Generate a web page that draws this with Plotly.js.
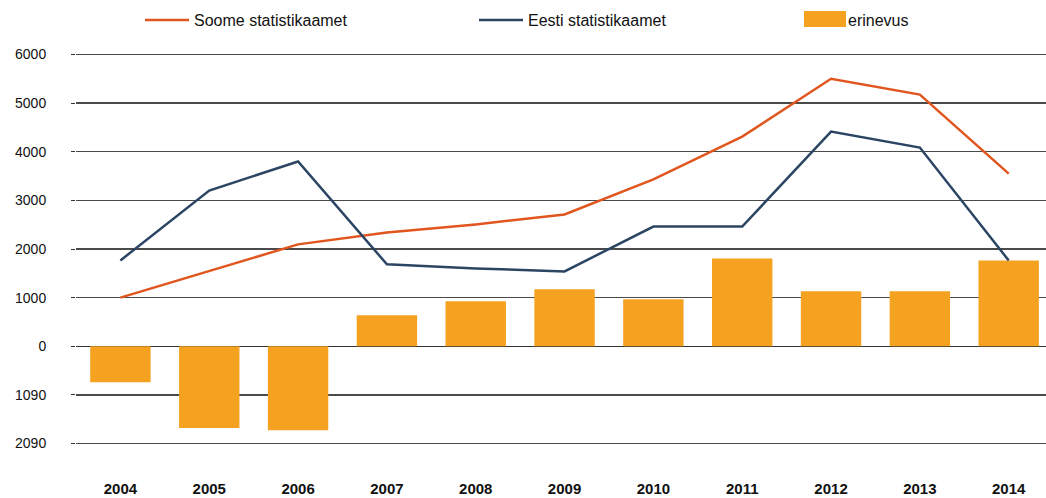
<!DOCTYPE html>
<html>
<head>
<meta charset="utf-8">
<script src="https://cdn.plot.ly/plotly-3.0.1.min.js"></script>
<style>html,body{margin:0;padding:0;background:#fff;}#chart{width:1046px;height:498px;}</style>
</head>
<body>
<div id="chart"></div>
<script>
var years = ["2004","2005","2006","2007","2008","2009","2010","2011","2012","2013","2014"];
var soome = [1000, 1540, 2095, 2340, 2505, 2710, 3430, 4310, 5500, 5175, 3550];
var eesti = [1765, 3200, 3800, 1685, 1600, 1540, 2460, 2460, 4415, 4085, 1765];
var erinevus = [-740, -1680, -1725, 640, 925, 1170, 965, 1805, 1130, 1130, 1765];
var yTickVals = [-2000, -1000, 0, 1000, 2000, 3000, 4000, 5000, 6000];
var yTickText = ["2090", "1090", "0", "1000", "2000", "3000", "4000", "5000", "6000"];

var font = "Liberation Sans, Arial, sans-serif";
var barColor = "#F5A221";
var traces = [
  {type: "bar", x: years, y: erinevus, name: "erinevus", marker: {color: barColor}, width: 0.68, legend: "legend3"},
  {type: "scatter", mode: "lines", x: years, y: soome, name: "Soome statistikaamet", line: {color: "#E1561F", width: 2.5}, legend: "legend"},
  {type: "scatter", mode: "lines", x: years, y: eesti, name: "Eesti statistikaamet", line: {color: "#2B4563", width: 2.5}, legend: "legend2"}
];
var legBase = {orientation: "h", xref: "container", yref: "container", xanchor: "left", yanchor: "middle", y: 1 - 20/498, font: {family: font, size: 16, color: "#111"}, bgcolor: "rgba(0,0,0,0)", itemwidth: 44};
var T = 52, B = 52, L = 76;
var plotH = 498 - T - B, plotW = 1046 - L;
function px2x(px) { return (px - L) / plotW; }
function py2y(py) { return (498 - B - py) / plotH; }
var layout = {
  width: 1046, height: 498,
  margin: {l: L, r: 0, t: T, b: B},
  paper_bgcolor: "#fff", plot_bgcolor: "#fff",
  showlegend: true,
  legend: Object.assign({}, legBase, {x: 140/1046}),
  legend2: Object.assign({}, legBase, {x: 474/1046}),
  legend3: Object.assign({}, legBase, {x: 794/1046}),
  shapes: [{type: "rect", xref: "paper", yref: "paper", x0: px2x(804), x1: px2x(846), y0: py2y(27), y1: py2y(11),
            fillcolor: barColor, line: {width: 0}, layer: "above"}],
  xaxis: {type: "category", range: [-0.5, 10.42], showgrid: false, zeroline: false, showline: false, ticks: "",
          tickfont: {family: font, size: 15, color: "#111", weight: "bold"}, ticklabelstandoff: 32, fixedrange: true},
  yaxis: {range: [-2050, 6050], tickvals: yTickVals, ticktext: yTickText, showgrid: true, gridcolor: "#4a4a4a", gridwidth: 1.5,
          zeroline: true, zerolinecolor: "#333", zerolinewidth: 1.5, ticks: "outside", ticklen: 4, tickcolor: "#333",
          tickfont: {family: font, size: 14, color: "#111"}, ticklabelstandoff: 22, showline: false, fixedrange: true}
};
Plotly.newPlot("chart", traces, layout, {displayModeBar: false, staticPlot: true});
</script>
</body>
</html>
